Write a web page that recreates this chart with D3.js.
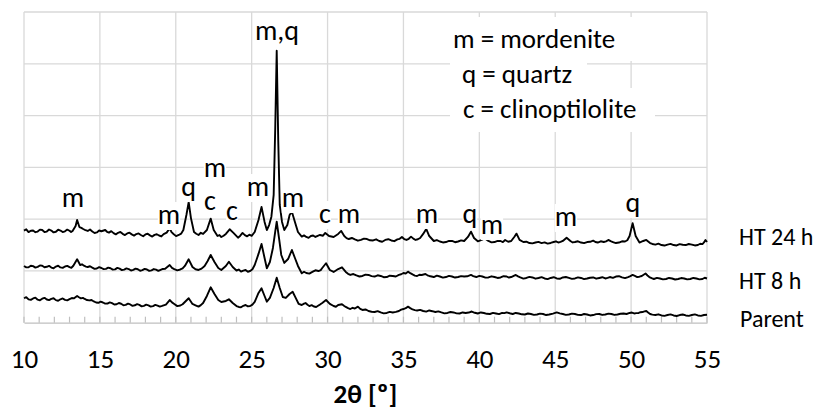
<!DOCTYPE html>
<html>
<head>
<meta charset="utf-8">
<script src="https://cdn.jsdelivr.net/npm/d3@7"></script>
<style>
  body { margin: 0; background: #fff; }
  svg { display: block; font-family: Calibri, Carlito, Lato, sans-serif; }
</style>
</head>
<body>
<svg id="chart" width="816" height="410"></svg>
<script>
// XRD patterns, [2theta, intensity (a.u.)]
var ht24h = [[10.0,88.9],[10.15,90.2],[10.3,87.5],[10.45,88.8],[10.6,89.0],[10.75,87.4],[10.9,88.0],[11.05,89.9],[11.2,89.5],[11.35,87.6],[11.5,88.0],[11.65,90.0],[11.8,89.0],[11.95,87.2],[12.1,87.8],[12.25,89.8],[12.4,89.0],[12.55,87.5],[12.7,88.2],[12.85,89.9],[13.0,88.8],[13.1,87.6],[13.2,88.6],[13.4,93.4],[13.5,99.2],[13.65,92.4],[13.78,91.6],[13.9,90.5],[14.05,89.3],[14.2,88.6],[14.35,90.0],[14.5,88.0],[14.65,86.6],[14.8,87.2],[14.95,89.0],[15.1,88.3],[15.35,89.5],[15.47,87.8],[15.6,87.0],[15.75,88.4],[15.9,86.5],[16.05,85.3],[16.2,86.8],[16.35,87.6],[16.5,85.8],[16.65,84.6],[16.8,86.2],[16.95,86.9],[17.1,85.3],[17.25,84.1],[17.4,85.6],[17.55,86.2],[17.7,84.7],[17.85,83.5],[18.0,85.2],[18.15,85.9],[18.3,84.3],[18.45,83.2],[18.6,84.8],[18.75,85.4],[18.9,84.2],[19.05,83.3],[19.2,85.5],[19.4,87.0],[19.6,91.2],[19.72,87.5],[19.85,85.7],[20.02,83.6],[20.2,84.7],[20.35,86.0],[20.5,89.5],[20.7,104.0],[20.85,116.5],[21.0,101.0],[21.2,87.6],[21.35,85.9],[21.5,84.7],[21.65,86.8],[21.8,85.7],[22.05,89.5],[22.3,100.5],[22.5,89.5],[22.75,83.7],[22.88,84.6],[23.0,82.7],[23.15,84.0],[23.3,85.7],[23.55,90.2],[23.8,86.7],[24.1,82.1],[24.25,84.0],[24.4,86.7],[24.55,84.6],[24.7,83.4],[24.85,85.0],[25.0,83.9],[25.2,87.6],[25.45,99.2],[25.65,111.8],[25.85,97.3],[26.0,89.5],[26.15,94.3],[26.3,102.4],[26.45,123.4],[26.55,186.1],[26.65,262.6],[26.75,176.5],[26.85,113.7],[27.0,97.3],[27.15,89.5],[27.35,94.3],[27.5,104.0],[27.65,107.2],[27.85,97.3],[28.05,87.6],[28.3,83.1],[28.45,84.3],[28.6,82.8],[28.75,81.9],[28.9,83.7],[29.05,84.2],[29.2,82.8],[29.35,83.9],[29.5,84.7],[29.7,84.0],[29.85,86.7],[30.1,83.7],[30.4,82.8],[30.7,85.7],[30.9,88.6],[31.1,83.7],[31.25,81.7],[31.4,80.8],[31.6,81.8],[31.8,80.4],[32.0,79.2],[32.2,79.9],[32.4,81.2],[32.6,80.8],[32.8,79.6],[33.0,79.4],[33.2,80.5],[33.4,78.9],[33.6,78.2],[33.8,79.9],[34.0,80.6],[34.2,79.4],[34.4,78.7],[34.6,80.4],[34.75,81.0],[34.9,82.8],[35.05,80.8],[35.2,79.9],[35.35,81.0],[35.5,83.1],[35.65,81.2],[35.8,79.9],[35.95,80.6],[36.1,81.8],[36.3,85.7],[36.5,90.5],[36.7,83.7],[37.0,78.9],[37.2,79.8],[37.4,78.4],[37.6,77.5],[37.8,77.9],[38.0,79.0],[38.2,78.9],[38.4,77.7],[38.6,78.4],[38.8,79.5],[39.0,78.9],[39.25,82.8],[39.45,87.9],[39.65,81.8],[39.9,78.6],[40.15,79.9],[40.35,81.5],[40.6,78.9],[40.8,77.6],[41.0,77.9],[41.2,79.0],[41.4,78.9],[41.55,77.8],[41.7,79.9],[41.9,78.2],[42.1,78.9],[42.3,82.8],[42.45,86.0],[42.65,79.9],[42.9,77.9],[43.1,78.2],[43.3,76.9],[43.5,76.6],[43.7,77.4],[43.9,78.0],[44.1,76.9],[44.3,77.6],[44.5,76.4],[44.7,77.0],[44.9,77.9],[45.05,78.6],[45.2,77.4],[45.35,78.0],[45.5,78.9],[45.75,82.1],[46.0,78.9],[46.15,77.5],[46.3,77.9],[46.5,78.6],[46.7,77.4],[46.9,76.8],[47.1,77.9],[47.3,78.1],[47.5,79.2],[47.65,77.9],[47.8,77.4],[48.0,78.6],[48.2,77.9],[48.35,78.5],[48.5,79.9],[48.65,78.7],[48.8,77.9],[49.0,76.9],[49.2,77.4],[49.4,78.6],[49.6,78.4],[49.75,79.6],[49.9,83.7],[50.1,96.0],[50.3,83.7],[50.55,77.4],[50.8,78.9],[51.0,79.9],[51.25,76.9],[51.4,76.0],[51.6,75.4],[51.8,76.3],[52.0,75.0],[52.2,74.5],[52.4,75.4],[52.6,76.1],[52.8,75.0],[53.0,74.6],[53.2,75.9],[53.4,75.3],[53.6,75.0],[53.8,76.0],[54.0,75.4],[54.2,74.6],[54.4,75.0],[54.55,76.2],[54.7,75.9],[54.8,77.5],[54.9,79.9],[55.0,77.9]];

var ht8h = [[10.0,54.8],[10.15,53.4],[10.3,53.5],[10.45,55.0],[10.6,54.6],[10.75,53.2],[10.9,53.9],[11.05,55.3],[11.2,55.0],[11.35,53.5],[11.5,54.0],[11.65,54.9],[11.8,53.2],[11.95,52.6],[12.1,54.2],[12.25,55.0],[12.4,53.4],[12.55,52.9],[12.7,54.3],[12.85,54.8],[13.0,53.6],[13.12,53.0],[13.25,55.0],[13.5,61.2],[13.7,55.7],[13.82,56.4],[13.95,55.0],[14.08,54.2],[14.2,53.8],[14.35,54.5],[14.5,53.2],[14.65,52.0],[14.8,52.3],[14.95,53.6],[15.1,52.8],[15.25,51.7],[15.4,52.0],[15.55,53.2],[15.7,52.6],[15.85,51.2],[16.0,51.5],[16.15,52.9],[16.3,52.2],[16.45,50.8],[16.6,51.2],[16.75,52.4],[16.9,51.8],[17.05,50.4],[17.2,51.0],[17.35,52.2],[17.5,51.6],[17.65,50.2],[17.8,50.8],[17.95,52.0],[18.1,51.4],[18.25,50.0],[18.4,50.6],[18.55,51.8],[18.7,51.2],[18.85,50.0],[19.0,51.0],[19.15,51.9],[19.3,52.0],[19.6,55.7],[19.75,53.0],[19.9,51.8],[20.1,50.6],[20.3,51.4],[20.45,52.4],[20.6,54.8],[20.85,61.2],[21.1,53.8],[21.3,51.6],[21.5,50.9],[21.7,52.2],[21.9,54.8],[22.1,59.6],[22.3,65.4],[22.55,58.6],[22.8,52.8],[23.0,50.9],[23.3,54.8],[23.5,58.9],[23.75,53.8],[24.0,50.4],[24.15,51.3],[24.3,49.3],[24.45,50.2],[24.6,50.9],[24.75,49.2],[24.9,49.9],[25.05,51.6],[25.2,55.7],[25.45,66.4],[25.65,76.0],[25.85,62.5],[26.0,52.5],[26.2,58.6],[26.4,72.2],[26.55,87.6],[26.65,97.6],[26.8,81.8],[26.95,65.4],[27.15,57.7],[27.4,61.5],[27.65,70.2],[27.85,62.5],[28.05,54.8],[28.3,47.7],[28.45,49.2],[28.6,48.0],[28.8,47.4],[29.0,49.0],[29.2,50.6],[29.4,49.9],[29.55,50.8],[29.65,52.8],[29.9,57.4],[30.15,50.9],[30.4,49.0],[30.7,51.8],[30.95,53.5],[31.2,49.0],[31.35,47.2],[31.5,46.1],[31.7,47.0],[31.9,45.6],[32.1,44.6],[32.3,45.1],[32.5,46.4],[32.7,46.1],[32.9,45.0],[33.1,44.6],[33.3,45.8],[33.5,45.1],[33.7,43.9],[33.9,44.1],[34.1,45.4],[34.3,45.1],[34.5,44.6],[34.7,46.1],[34.85,46.8],[35.0,48.0],[35.15,47.5],[35.3,49.3],[35.45,47.8],[35.6,46.6],[35.75,45.5],[35.9,45.1],[36.05,46.3],[36.2,46.1],[36.45,47.0],[36.58,45.8],[36.7,45.1],[36.85,44.6],[37.0,44.1],[37.2,45.4],[37.4,44.6],[37.6,43.5],[37.8,44.1],[38.0,45.2],[38.2,44.6],[38.4,43.6],[38.6,44.1],[38.8,45.0],[39.0,44.6],[39.2,44.8],[39.45,46.1],[39.6,45.0],[39.8,44.1],[40.0,45.2],[40.2,44.6],[40.4,43.5],[40.6,43.7],[40.8,44.8],[41.0,44.1],[41.2,43.2],[41.4,43.7],[41.6,44.9],[41.8,44.6],[41.95,43.6],[42.1,44.1],[42.4,46.1],[42.55,44.7],[42.7,43.7],[42.9,42.6],[43.1,43.2],[43.3,44.2],[43.5,43.7],[43.7,42.5],[43.9,43.2],[44.1,44.0],[44.3,42.7],[44.5,42.1],[44.7,43.2],[44.9,43.9],[45.1,42.7],[45.3,42.4],[45.5,43.7],[45.7,44.1],[45.9,43.2],[46.1,42.3],[46.3,42.7],[46.5,43.8],[46.7,43.2],[46.9,42.1],[47.1,42.7],[47.3,43.4],[47.5,43.7],[47.7,42.5],[47.9,43.2],[48.1,43.9],[48.3,42.7],[48.45,43.3],[48.6,44.1],[48.8,43.3],[49.0,44.6],[49.2,44.9],[49.4,43.7],[49.6,43.0],[49.8,44.1],[49.95,45.0],[50.1,46.1],[50.25,45.2],[50.4,44.1],[50.55,44.4],[50.7,45.1],[50.95,47.5],[51.08,45.6],[51.2,44.1],[51.35,43.0],[51.5,42.2],[51.7,43.3],[51.9,42.7],[52.1,41.8],[52.3,42.2],[52.5,43.2],[52.7,42.7],[52.9,41.7],[53.1,42.2],[53.3,43.1],[53.5,42.7],[53.7,41.8],[53.9,42.2],[54.1,43.2],[54.3,42.7],[54.5,41.8],[54.7,42.2],[54.85,43.4],[55.0,42.7]];

var parent = [[10.0,23.6],[10.15,24.6],[10.3,22.5],[10.45,22.0],[10.6,23.4],[10.75,24.2],[10.9,22.2],[11.05,21.6],[11.2,23.2],[11.35,24.0],[11.5,22.4],[11.65,21.8],[11.8,23.0],[11.95,23.6],[12.1,21.8],[12.25,21.2],[12.4,22.6],[12.55,23.4],[12.7,22.0],[12.85,21.6],[13.0,22.8],[13.15,23.8],[13.3,23.5],[13.5,25.8],[13.62,24.6],[13.75,23.5],[13.88,24.0],[14.0,22.9],[14.15,21.9],[14.3,21.5],[14.45,21.9],[14.6,20.5],[14.75,19.5],[14.9,19.2],[15.05,20.3],[15.2,19.5],[15.35,18.4],[15.5,18.5],[15.65,19.6],[15.8,18.9],[15.95,17.6],[16.1,17.8],[16.25,19.0],[16.4,18.3],[16.55,16.9],[16.7,17.2],[16.85,18.4],[17.0,17.6],[17.15,16.3],[17.3,16.8],[17.45,17.9],[17.6,17.2],[17.75,15.8],[17.9,16.3],[18.05,17.4],[18.2,16.8],[18.35,15.6],[18.5,16.0],[18.65,17.2],[18.8,16.5],[18.95,15.5],[19.1,16.2],[19.35,17.5],[19.6,21.9],[19.75,19.6],[19.9,18.1],[20.1,16.0],[20.3,16.6],[20.45,17.8],[20.6,20.0],[20.85,23.6],[21.1,18.1],[21.3,16.8],[21.5,15.5],[21.65,17.0],[21.8,19.0],[22.05,25.8],[22.3,34.2],[22.55,27.7],[22.8,21.9],[23.0,20.0],[23.3,21.0],[23.5,22.6],[23.75,19.0],[24.0,16.1],[24.15,15.2],[24.3,14.9],[24.45,16.3],[24.6,17.1],[24.75,15.8],[24.9,16.1],[25.05,17.5],[25.2,20.0],[25.45,28.7],[25.65,33.2],[25.85,25.8],[26.0,20.3],[26.2,23.9],[26.45,33.5],[26.65,43.5],[26.85,33.5],[27.05,24.8],[27.25,23.9],[27.5,27.7],[27.7,29.9],[27.9,23.9],[28.1,18.1],[28.3,17.1],[28.45,18.4],[28.55,19.0],[28.68,17.3],[28.8,16.1],[28.95,17.0],[29.1,15.6],[29.25,15.2],[29.4,16.6],[29.5,17.5],[29.65,19.0],[29.9,21.9],[30.15,18.1],[30.4,16.1],[30.55,15.4],[30.7,17.1],[30.95,17.8],[31.08,16.4],[31.2,15.2],[31.35,14.0],[31.5,13.2],[31.65,14.4],[31.8,13.7],[32.0,15.5],[32.15,13.4],[32.3,12.3],[32.5,12.8],[32.7,11.3],[32.9,10.6],[33.1,10.3],[33.3,11.2],[33.5,9.9],[33.7,9.0],[33.9,9.4],[34.1,10.5],[34.3,9.9],[34.5,10.4],[34.7,11.3],[34.85,12.6],[35.0,13.2],[35.15,14.0],[35.3,15.5],[35.45,14.1],[35.6,12.8],[35.75,12.1],[35.9,11.8],[36.1,12.4],[36.3,11.3],[36.5,10.7],[36.7,11.8],[36.9,11.1],[37.1,10.3],[37.3,10.9],[37.5,9.9],[37.7,9.0],[37.9,9.4],[38.1,10.3],[38.3,9.9],[38.5,9.0],[38.7,8.9],[38.9,9.9],[39.1,9.4],[39.3,9.8],[39.5,10.8],[39.7,9.6],[39.9,8.9],[40.1,9.9],[40.3,9.4],[40.5,8.6],[40.7,8.4],[40.9,9.5],[41.1,8.9],[41.3,8.3],[41.5,9.4],[41.65,9.2],[41.8,10.0],[42.0,9.1],[42.2,8.4],[42.4,9.4],[42.6,8.9],[42.8,8.1],[43.0,7.9],[43.2,8.9],[43.4,8.4],[43.6,7.6],[43.8,7.9],[44.0,8.8],[44.2,8.4],[44.4,7.4],[44.6,7.9],[44.85,8.8],[45.1,9.9],[45.3,9.0],[45.5,8.4],[45.7,7.6],[45.9,7.9],[46.1,8.8],[46.3,8.4],[46.5,7.6],[46.7,7.4],[46.9,8.4],[47.1,7.9],[47.3,7.0],[47.5,7.4],[47.7,8.3],[47.9,8.4],[48.1,7.5],[48.3,7.9],[48.5,8.8],[48.7,8.4],[48.9,7.5],[49.1,7.9],[49.3,8.6],[49.5,8.9],[49.7,8.4],[49.9,9.4],[50.05,9.8],[50.2,8.9],[50.35,9.2],[50.5,9.4],[50.62,10.1],[50.75,10.3],[50.88,10.9],[51.0,11.3],[51.12,9.8],[51.25,8.4],[51.4,7.8],[51.6,7.4],[51.8,8.1],[52.0,7.0],[52.2,6.6],[52.4,7.4],[52.6,8.0],[52.8,7.0],[53.0,6.5],[53.2,7.4],[53.4,7.9],[53.6,7.0],[53.8,6.6],[54.0,7.4],[54.2,8.0],[54.4,7.0],[54.6,6.6],[54.8,7.4],[55.0,7.7]];

var seriesNames = ["HT 24 h", "HT 8 h", "Parent"];
var xTicks = [10, 15, 20, 25, 30, 35, 40, 45, 50, 55];
var yGrid = [0, 50, 100, 150, 200, 250, 300];

// phase labels: [text, 2theta, intensity]
var peakLabels = [
  ["m,q", 26.67, 273], ["m", 13.23, 111.7], ["m", 19.55, 95.3], ["q", 20.84, 122.3],
  ["m", 22.58, 140.7], ["c", 22.25, 108.8], ["c", 23.7, 99.2], ["m", 25.42, 122.3],
  ["m", 27.72, 111.7], ["c", 29.83, 96.3], ["m", 31.41, 96.3], ["m", 36.55, 96.3],
  ["q", 39.38, 96.3], ["m", 40.83, 85.6], ["m", 45.71, 93.4], ["q", 50.12, 106.9]
];
var legendLines = ["m = mordenite", "q = quartz", "c = clinoptilolite"];

var margin = { top: 12, right: 109, bottom: 87.3, left: 24 };
var svg = d3.select("#chart"),
  width = +svg.attr("width") - margin.left - margin.right,
  height = +svg.attr("height") - margin.top - margin.bottom;

var g = svg.append("g").attr("transform", "translate(" + margin.left + "," + margin.top + ")");

var x = d3.scaleLinear().domain([10, 55]).range([0, width]);
var y = d3.scaleLinear().domain([0, 300]).range([height, 0]);

// gridlines
g.selectAll(".hgrid").data(yGrid.slice(1)).enter().append("line")
  .attr("x1", 0).attr("x2", width)
  .attr("y1", d => y(d)).attr("y2", d => y(d))
  .attr("stroke", "#d9d9d9").attr("stroke-width", 1.3);
g.selectAll(".vgrid").data(xTicks).enter().append("line")
  .attr("x1", d => x(d)).attr("x2", d => x(d))
  .attr("y1", 0).attr("y2", height)
  .attr("stroke", "#d9d9d9").attr("stroke-width", 1.3);

// minor ticks, inside, every degree
g.selectAll(".minor").data(x.ticks(45)).enter().append("line")
  .attr("x1", d => x(d)).attr("x2", d => x(d))
  .attr("y1", height - 6).attr("y2", height)
  .attr("stroke", "#bfbfbf").attr("stroke-width", 1.2);

// x axis
var xAxis = g.append("g").attr("transform", "translate(0," + height + ")")
  .call(d3.axisBottom(x).tickValues(xTicks).tickSize(0).tickPadding(26));
xAxis.select(".domain").attr("stroke", "#bfbfbf").attr("stroke-width", 1.3);
xAxis.selectAll("text").attr("font-size", 27).attr("fill", "#000")
  .attr("font-family", "Calibri, Carlito, Lato, sans-serif");

svg.append("text")
  .attr("x", margin.left + width / 2).attr("y", 403)
  .attr("text-anchor", "middle").attr("font-size", 27).attr("font-weight", "bold")
  .text("2θ [º]");

// patterns
var line = d3.line().x(d => x(d[0])).y(d => y(d[1]));
var traces = [ht24h, ht8h, parent];
g.selectAll(".trace").data(traces).enter().append("path")
  .attr("class", "trace")
  .attr("d", line)
  .attr("fill", "none").attr("stroke", "#000")
  .attr("stroke-width", 1.9).attr("stroke-linejoin", "round");

// series names on the right
var nameY = [245, 289, 327];
svg.selectAll(".sname").data(seriesNames).enter().append("text")
  .attr("x", (d, i) => i == 2 ? 740 : 739).attr("y", (d, i) => nameY[i])
  .attr("font-size", 24).attr("fill", "#000")
  .text(d => d);

// phase labels with white box behind
var pl = g.selectAll(".plabel").data(peakLabels).enter().append("g");
pl.append("text")
  .attr("x", d => x(d[1])).attr("y", d => y(d[2]))
  .attr("text-anchor", "middle").attr("font-size", 28).attr("fill", "#000")
  .text(d => d[0]);
pl.each(function () {
  var t = d3.select(this).select("text");
  var b = t.node().getBBox();
  d3.select(this).insert("rect", "text")
    .attr("x", b.x).attr("y", b.y + 5).attr("width", b.width).attr("height", b.height - 7)
    .attr("fill", "#fff");
});

// legend text boxes
var legendBoxes = [[450, 17, 190, 44], [450, 61, 137, 27], [450, 88, 205, 44]];
svg.selectAll(".lbox").data(legendBoxes).enter().append("rect")
  .attr("x", d => d[0]).attr("y", d => d[1]).attr("width", d => d[2]).attr("height", d => d[3])
  .attr("fill", "#fff");
var legendX = [453, 462, 463], legendY = [48, 83, 118];
svg.selectAll(".ltext").data(legendLines).enter().append("text")
  .attr("x", (d, i) => legendX[i]).attr("y", (d, i) => legendY[i])
  .attr("font-size", 27).attr("fill", "#000")
  .text(d => d);
</script>
</body>
</html>
